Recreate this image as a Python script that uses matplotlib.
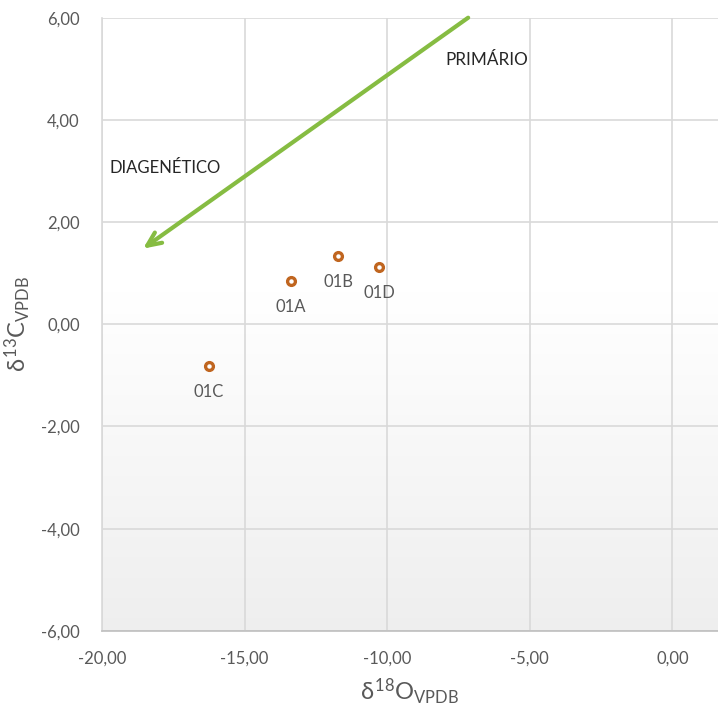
import numpy as np
import matplotlib.pyplot as plt
from matplotlib.ticker import FuncFormatter, MultipleLocator

plt.rcParams['font.family'] = ['Lato', 'DejaVu Sans']
plt.rcParams['mathtext.fontset'] = 'custom'
plt.rcParams['mathtext.rm'] = 'Lato'
plt.rcParams['mathtext.it'] = 'Lato'

# sample isotope values
samples = ['01A', '01B', '01C', '01D']
d18O = [-13.37, -11.72, -16.25, -10.28]
d13C = [0.85, 1.34, -0.81, 1.13]

# trend arrow (primary -> diagenetic)
arrow_start = (-7.16, 6.0)
arrow_end = (-18.56, 1.48)

fig = plt.figure(figsize=(7.18, 7.08), dpi=100)
ax = fig.add_axes([0.142, 0.109, 0.858, 0.866])

xmin, xmax, ymin, ymax = -20, 1.6, -6, 6
ax.set_xlim(xmin, xmax)
ax.set_ylim(ymin, ymax)

# background gradient: white on top, light gray at bottom
grad = np.linspace(0, 1, 256)
grad = np.clip((grad - 0.45) / 0.55, 0, 1)[:, None]
bg = 1 - 0.065 * grad
ax.imshow(np.dstack([bg, bg, bg]), extent=[xmin, xmax, ymin, ymax], origin='upper',
          aspect='auto', zorder=0, interpolation='bilinear')
ax.set_xlim(xmin, xmax)
ax.set_ylim(ymin, ymax)

ax.xaxis.set_major_locator(MultipleLocator(5))
ax.yaxis.set_major_locator(MultipleLocator(2))
fmt = FuncFormatter(lambda v, p: f'{v:.2f}'.replace('.', ','))
ax.xaxis.set_major_formatter(fmt)
ax.yaxis.set_major_formatter(fmt)
ax.grid(True, color='#d9d9d9', linewidth=1.2, zorder=1)
ax.set_axisbelow(True)
ax.tick_params(length=0, labelsize=12, colors='#595959', pad=16)
ax.tick_params(axis='x', pad=14)

for s in ['top', 'right']:
    ax.spines[s].set_visible(False)
ax.spines['left'].set_color('#d9d9d9')
ax.spines['left'].set_linewidth(1.2)
ax.spines['bottom'].set_color('#bfbfbf')
ax.spines['bottom'].set_linewidth(1.2)

ax.plot(d18O, d13C, 'o', color='#c0651f', markersize=7, zorder=4, clip_on=False)
ax.plot(d18O, d13C, 'o', color='white', markersize=2.2, zorder=5, clip_on=False)
for name, x, y in zip(samples, d18O, d13C):
    ax.annotate(name, (x, y), xytext=(0, -19), textcoords='offset points',
                ha='center', va='center', fontsize=12, color='#595959')

ax.annotate('', xy=arrow_end, xytext=arrow_start,
            arrowprops=dict(arrowstyle='->, head_length=1.0, head_width=0.45',
                            color='#86bc42', lw=3, shrinkA=0, shrinkB=0),
            zorder=3, annotation_clip=False)

ax.text(-7.96, 5.17, 'PRIMÁRIO', fontsize=12.3, color='#262626', ha='left', va='center')
ax.text(-19.72, 3.05, 'DIAGENÉTICO', fontsize=12, color='#262626', ha='left', va='center')

ax.set_xlabel(r'$\delta^{18}$O$_{\mathrm{VPDB}}$', fontsize=17, color='#595959', labelpad=8)
ax.set_ylabel(r'$\delta^{13}$C$_{\mathrm{VPDB}}$', fontsize=17, color='#595959')
ax.yaxis.set_label_coords(-0.112, 0.5)

fig.savefig('out.png', dpi=100)
